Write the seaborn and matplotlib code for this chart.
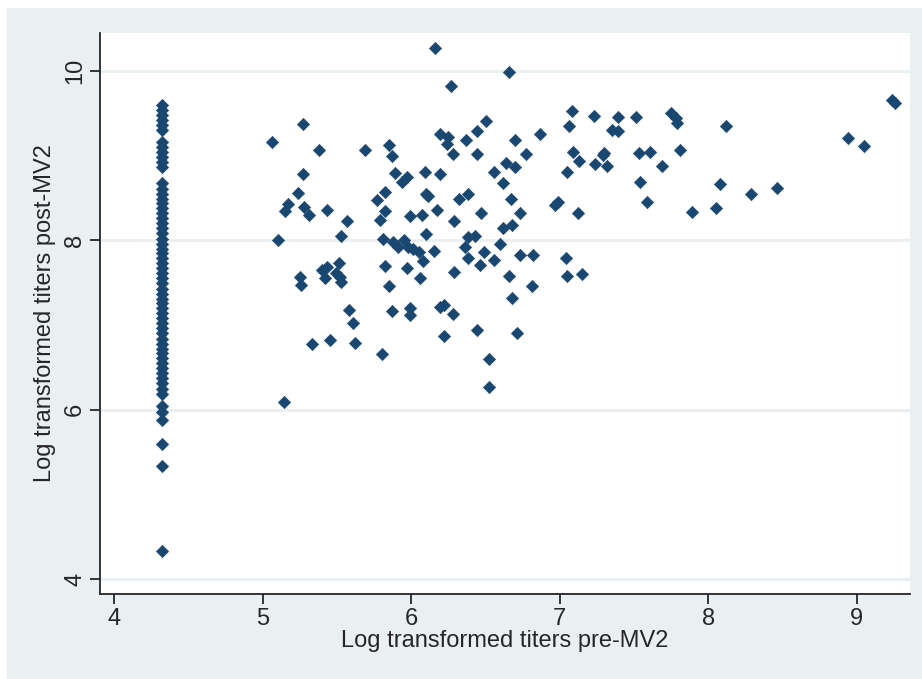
import matplotlib
matplotlib.use("Agg")
import matplotlib.pyplot as plt
from matplotlib.patches import Rectangle
import pandas as pd
import seaborn as sns

# Pre-MV2 titre below the detection limit is recorded at this value
LOD_PRE = 4.32

# Post-MV2 titres of subjects whose pre-MV2 titre sat at the detection limit
post_at_lod = [
    9.60, 9.54, 9.48, 9.42, 9.36, 9.30,
    9.16, 9.10, 9.04, 8.98, 8.92, 8.86,
    8.67, 8.61, 8.55, 8.49, 8.44, 8.38, 8.32, 8.26, 8.20, 8.14, 8.08,
    8.02, 7.96, 7.90, 7.85, 7.79, 7.73, 7.67, 7.61, 7.55, 7.49, 7.43,
    7.37, 7.31, 7.26, 7.20, 7.14, 7.08, 7.02, 6.96, 6.90, 6.84, 6.78,
    6.72, 6.67, 6.61, 6.55, 6.49, 6.43, 6.37, 6.31, 6.25, 6.19,
    6.05, 5.97, 5.88, 5.60, 5.34, 4.33,
]

# Subjects with a measurable pre-MV2 titre
pre_mv2 = [
    5.27, 5.06, 5.38, 5.69, 5.85, 5.87, 5.27, 5.89, 5.94, 5.97,
    5.24, 5.17, 5.15, 5.28, 5.31, 5.43, 5.57, 5.82, 5.77, 5.82,
    5.79, 5.99, 5.10, 5.53, 5.81, 5.88, 5.91, 5.95, 5.98, 6.01,
    6.05, 6.08, 5.82, 5.97, 6.06, 5.43, 5.40, 5.51, 5.42, 5.49,
    5.52, 5.53, 5.25, 5.26, 5.85, 5.58, 5.61, 5.87, 5.99, 5.99,
    5.33, 5.45, 5.62, 5.80, 5.14,
    6.16, 6.66, 6.27, 6.50, 6.44, 6.37, 6.19, 6.25, 6.24, 6.28,
    6.44, 6.70, 6.87, 6.77, 7.08, 7.06, 7.09, 7.13, 6.09, 6.19,
    6.56, 6.64, 6.70, 6.62, 7.05, 6.10, 6.11, 6.32, 6.38, 6.67,
    6.99, 6.97, 6.17, 6.07, 6.29, 6.47, 6.73, 6.68, 6.62, 7.12,
    6.10, 6.38, 6.43, 6.36, 6.60, 6.15, 6.38, 6.49, 6.46, 6.56,
    6.73, 6.82, 7.04, 7.05, 7.15, 6.29, 6.66, 6.81, 6.68, 6.19,
    6.22, 6.28, 6.44, 6.71, 6.22, 6.52, 6.52,
    7.23, 7.39, 7.35, 7.39, 7.51, 7.75, 7.78, 7.79, 8.12, 7.24,
    7.30, 7.32, 7.29, 7.53, 7.61, 7.69, 7.81, 7.54, 7.59, 8.08,
    7.89, 8.05, 8.29, 8.46, 8.94, 9.05, 9.24, 9.26,
]
post_mv2 = [
    9.37, 9.16, 9.06, 9.06, 9.12, 8.99, 8.78, 8.79, 8.69, 8.75,
    8.56, 8.43, 8.34, 8.39, 8.30, 8.36, 8.23, 8.57, 8.47, 8.34,
    8.24, 8.28, 8.00, 8.05, 8.02, 7.98, 7.92, 8.00, 7.92, 7.90,
    7.86, 7.75, 7.70, 7.67, 7.56, 7.69, 7.65, 7.73, 7.55, 7.61,
    7.57, 7.51, 7.57, 7.47, 7.46, 7.18, 7.02, 7.16, 7.20, 7.12,
    6.77, 6.82, 6.79, 6.66, 6.09,
    10.27, 9.99, 9.82, 9.41, 9.29, 9.18, 9.25, 9.22, 9.14, 9.02,
    9.02, 9.18, 9.25, 9.02, 9.52, 9.35, 9.04, 8.93, 8.81, 8.78,
    8.81, 8.91, 8.86, 8.68, 8.81, 8.55, 8.52, 8.49, 8.55, 8.49,
    8.45, 8.41, 8.36, 8.30, 8.23, 8.32, 8.32, 8.18, 8.14, 8.32,
    8.07, 8.04, 8.05, 7.92, 7.95, 7.87, 7.79, 7.86, 7.71, 7.77,
    7.82, 7.83, 7.79, 7.58, 7.60, 7.62, 7.58, 7.46, 7.32, 7.21,
    7.23, 7.13, 6.94, 6.91, 6.87, 6.60, 6.27,
    9.47, 9.45, 9.30, 9.29, 9.45, 9.50, 9.44, 9.38, 9.35, 8.90,
    9.03, 8.87, 9.01, 9.03, 9.04, 8.88, 9.06, 8.69, 8.45, 8.66,
    8.33, 8.38, 8.54, 8.62, 9.21, 9.11, 9.65, 9.62,
]

x_ticks = [4, 5, 6, 7, 8, 9]
y_ticks = [4, 6, 8, 10]

titres = pd.DataFrame({
    "pre": [LOD_PRE] * len(post_at_lod) + pre_mv2,
    "post": post_at_lod + post_mv2,
})

sns.set_theme(style="white")
plt.rcParams["font.family"] = ["Liberation Sans", "DejaVu Sans"]

W, H = 922, 679
OUTER = "#EAF0F2"
NAVY = "#1A476F"
INK = "#262626"

fig = plt.figure(figsize=(W / 100, H / 100), dpi=100, facecolor="white")
# Graph region band behind the plot area
fig.patches.append(Rectangle((7 / W, 0), 1, (H - 8) / H, transform=fig.transFigure,
                             facecolor=OUTER, edgecolor="none", zorder=-10))

ax = fig.add_axes([100 / W, 85 / H, 810 / W, 561 / H])
ax.set_zorder(5)
ax.set_facecolor("white")

sns.scatterplot(data=titres, x="pre", y="post", marker="D", s=40,
                color=NAVY, linewidth=0.4, edgecolor=NAVY, ax=ax, zorder=3)

ax.set_xlim(3.904, 9.358)
ax.set_ylim(3.826, 10.445)
ax.set_xticks(x_ticks)
ax.set_yticks(y_ticks)
ax.set_xticklabels([str(v) for v in x_ticks])
ax.set_yticklabels([str(v) for v in y_ticks], rotation=90, va="center")

ax.yaxis.grid(True, color=OUTER, linewidth=2.2)
ax.xaxis.grid(False)
ax.set_axisbelow(True)

for side in ("top", "right"):
    ax.spines[side].set_visible(False)
for side in ("left", "bottom"):
    ax.spines[side].set_color(INK)
    ax.spines[side].set_linewidth(1.3)

ax.tick_params(axis="both", direction="out", length=7, width=1.3, color=INK,
               labelsize=17, labelcolor=INK, pad=3)
ax.tick_params(axis="x", bottom=True)
ax.tick_params(axis="y", left=True)

ax.set_xlabel("Log transformed titers pre-MV2", fontsize=17, color=INK, labelpad=0)
ax.set_ylabel("Log transformed titers post-MV2", fontsize=17, color=INK, labelpad=6)

fig.savefig("out.png", dpi=100, facecolor=fig.get_facecolor())
